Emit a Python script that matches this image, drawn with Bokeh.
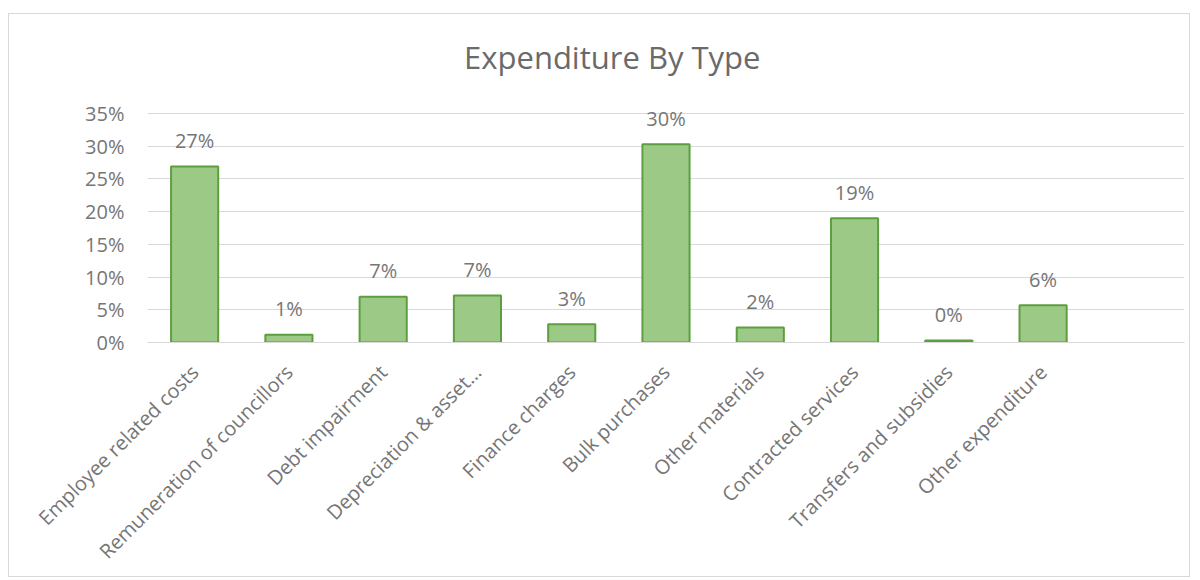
from bokeh.plotting import figure
from bokeh.models import FactorRange, FixedTicker, NumeralTickFormatter, ColumnDataSource, Label
from bokeh.core.properties import value
from bokeh.embed import file_html
from bokeh.resources import INLINE
import math

categories = ["Employee related costs", "Remuneration of councillors", "Debt impairment",
              "Depreciation & asset\u2026", "Finance charges", "Bulk purchases", "Other materials",
              "Contracted services", "Transfers and subsidies", "Other expenditure"]
values = [0.269, 0.012, 0.070, 0.072, 0.028, 0.303, 0.023, 0.190, 0.003, 0.057]
labels = ["27%", "1%", "7%", "7%", "3%", "30%", "2%", "19%", "0%", "6%"]
y_ticks = [0, 0.05, 0.10, 0.15, 0.20, 0.25, 0.30, 0.35]
title_text = "Expenditure By Type"

FONT = "Open Sans"
GRAY = "#767676"

factors = categories + [" "]
p = figure(x_range=FactorRange(factors=factors, range_padding=0), y_range=(0, 0.48),
           width=1182, height=564, output_backend="svg", toolbar_location=None,
           min_border_left=138, min_border_right=7, min_border_top=14, min_border_bottom=236)
p.margin = (13, 0, 0, 8)
p.styles = {"border": "1px solid #d9d9d9"}
p.outline_line_color = None

src = ColumnDataSource(dict(x=categories, top=values, lab=labels))
p.vbar(x="x", top="top", width=0.5, source=src, fill_color="#9dc987",
       line_color="#5b9f3f", line_width=2)
p.text(x="x", y="top", text="lab", source=src, text_align="center",
       text_baseline="alphabetic", y_offset=-26, text_font=value(FONT),
       text_font_size="20px", text_color=GRAY)

p.add_layout(Label(x=4.93, y=0.4365, text=title_text, text_align="center",
                   text_baseline="alphabetic", text_font=FONT, text_font_size="31px",
                   text_color="#6a6a6a"))

p.yaxis.ticker = FixedTicker(ticks=y_ticks)
p.yaxis.formatter = NumeralTickFormatter(format="0%")
p.yaxis.axis_line_color = None
p.yaxis.major_tick_line_color = None
p.yaxis.minor_tick_line_color = None
p.yaxis.major_label_standoff = 17
p.yaxis.major_label_text_font = FONT
p.yaxis.major_label_text_font_size = "20px"
p.yaxis.major_label_text_color = GRAY

p.xaxis.axis_line_color = "#d9d9d9"
p.xaxis.axis_line_width = 1
p.xaxis.major_tick_line_color = None
p.xaxis.minor_tick_line_color = None
p.xaxis.major_label_orientation = math.pi / 4
p.xaxis.major_label_standoff = 20
p.xaxis.major_label_text_font = FONT
p.xaxis.major_label_text_font_size = "20px"
p.xaxis.major_label_text_color = GRAY

p.xgrid.grid_line_color = None
p.ygrid.grid_line_color = "#d9d9d9"
p.ygrid.ticker = FixedTicker(ticks=y_ticks)

open("out.html", "w").write(file_html(p, INLINE))
